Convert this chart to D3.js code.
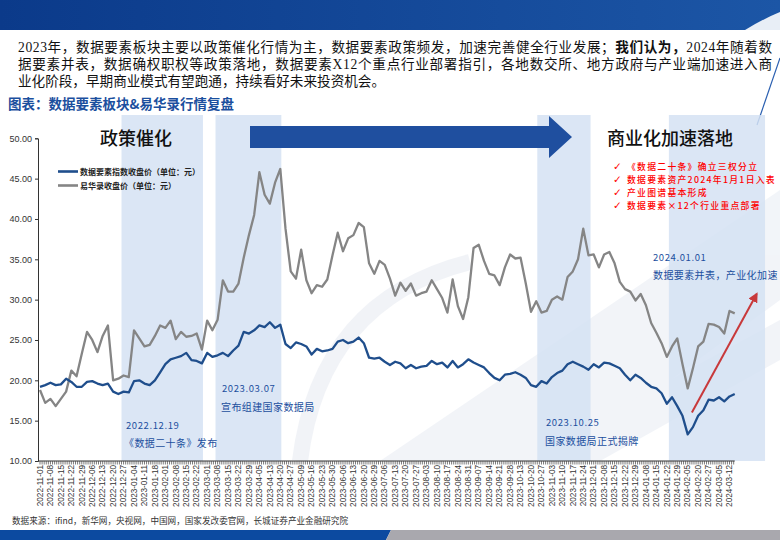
<!DOCTYPE html>
<html><head><meta charset="utf-8">
<script src="https://cdn.jsdelivr.net/npm/d3@7"></script>
<style>body{margin:0;background:#fff}svg{display:block}</style>
</head><body>
<svg id="c" width="780" height="540"></svg>
<script>
// ---------- DATA ----------
const xLabels = ["2022-11-01","2022-11-08","2022-11-15","2022-11-22","2022-11-29","2022-12-06","2022-12-13","2022-12-20","2022-12-27",
"2023-01-04","2023-01-11","2023-01-18","2023-02-01","2023-02-08","2023-02-15","2023-02-22","2023-03-01","2023-03-08","2023-03-15","2023-03-22","2023-03-29",
"2023-04-05","2023-04-13","2023-04-20","2023-04-27","2023-05-09","2023-05-16","2023-05-23","2023-05-30","2023-06-06","2023-06-13","2023-06-20","2023-06-29",
"2023-07-06","2023-07-13","2023-07-20","2023-07-27","2023-08-03","2023-08-10","2023-08-17","2023-08-24","2023-08-31","2023-09-07","2023-09-14","2023-09-21","2023-09-28",
"2023-10-13","2023-10-20","2023-10-27","2023-11-03","2023-11-10","2023-11-17","2023-11-24","2023-12-01","2023-12-08","2023-12-15","2023-12-22","2023-12-29",
"2024-01-08","2024-01-15","2024-01-22","2024-01-29","2024-02-05","2024-02-20","2024-02-27","2024-03-05","2024-03-12"];
const labelStep = 5;      // trading days between labels
const sampleStep = 2.5;   // trading days between samples below

// 数据要素指数收盘价（元）
const indexValues = [19.2,19.4,19.7,19.4,19.5,20.2,19.8,19.2,19.2,19.8,19.9,19.6,19.4,19.6,18.6,18.3,18.6,18.5,19.9,20.0,
19.6,19.4,20.0,21.0,22.0,22.6,22.8,23.0,23.4,22.5,22.4,22.1,23.4,22.9,23.1,23.4,23.0,23.7,24.3,26.0,
25.8,26.2,26.8,26.6,27.2,26.5,26.9,24.5,24.0,24.7,24.5,24.2,23.2,23.9,23.6,23.7,23.9,24.8,25.0,24.6,
24.8,25.3,24.6,22.8,22.7,22.8,22.3,21.9,22.3,22.1,21.5,21.9,21.5,21.7,21.8,22.4,22.0,22.2,21.6,22.4,
21.6,22.0,22.6,22.2,21.9,21.6,20.9,20.3,20.0,20.7,20.8,21.0,20.7,20.3,19.4,19.2,19.9,19.6,20.4,20.9,
21.2,22.0,22.3,22.0,21.7,21.3,22.0,21.6,22.2,22.1,21.8,21.5,20.7,20.0,20.7,20.3,19.7,19.2,19.0,18.4,
17.1,17.9,16.8,15.6,13.3,14.2,15.6,16.3,17.6,17.5,17.9,17.4,18.0,18.3];
// 易华录收盘价（元）
const yhlValues = [18.8,17.2,17.7,16.8,17.7,18.6,21.2,20.5,23.3,26.0,25.0,23.5,25.5,26.8,20.0,20.2,20.6,20.4,26.2,25.2,
24.2,24.4,25.5,26.8,26.5,27.4,25.1,26.0,25.4,25.5,25.8,23.8,27.4,26.2,27.5,32.4,31.0,31.0,32.0,35.2,
38.0,40.5,45.8,43.0,41.9,44.5,46.2,38.8,33.5,32.6,36.2,32.4,30.8,31.8,31.6,32.5,35.5,38.3,36.0,37.6,
38.0,39.5,39.0,34.5,33.2,34.8,34.3,32.6,30.5,32.1,31.1,32.0,30.5,30.8,31.0,32.4,31.3,30.2,28.4,32.5,
29.2,27.6,30.3,36.4,36.8,34.8,33.2,33.0,31.8,34.0,35.6,35.1,35.2,32.0,28.5,29.8,28.4,28.6,30.0,30.4,
30.0,32.8,33.5,35.0,38.8,35.5,35.6,34.0,35.6,35.9,34.5,32.2,31.3,31.0,29.9,30.7,29.3,27.1,25.9,24.6,
22.9,24.2,25.2,22.0,19.0,21.5,24.2,24.8,27.0,26.9,26.6,25.8,28.6,28.3];

const yTicks = [10,15,20,25,30,35,40,45,50];
const seriesNames = ["数据要素指数收盘价（单位：元）","易华录收盘价（单位：元）"];
const bandDays = [[39,78],[84,115.5],[238,263.5],[301,347]];   // highlighted periods (trading-day index)
const phaseTitles = ["政策催化","商业化加速落地"];
const eventDates = ["2022.12.19","2023.03.07","2023.10.25","2024.01.01"];
const eventTexts = ["《数据二十条》发布","宣布组建国家数据局","国家数据局正式揭牌","数据要素并表，产业化加速"];
const bullets = ["《数据二十条》确立三权分立","数据要素资产2024年1月1日入表","产业图谱基本形成","数据要素×12个行业重点部署"];
const trendFrom = [312, 16.0], trendTo = [343, 30.7];

// ---------- LAYOUT ----------
const svg = d3.select("#c");
const cjk = "'Noto Sans CJK SC', sans-serif";
const x = d3.scaleLinear().domain([0, 330]).range([40, 729.5]);
const y = d3.scaleLinear().domain([10, 50]).range([461, 138.3]);
const plotTop = 115, plotBottom = 461;
const navy = "#1f4e8c", grey = "#858585", hdrBlue = "#1b4f9e";

// header bar
const defs = svg.append("defs");
const g1 = defs.append("linearGradient").attr("id","hdr").attr("x1","0").attr("x2","1");
g1.append("stop").attr("offset","0").attr("stop-color","#0b3a8a");
g1.append("stop").attr("offset","1").attr("stop-color","#1c56a6");
svg.append("rect").attr("x",0).attr("y",0).attr("width",780).attr("height",30).attr("fill","url(#hdr)");
svg.append("path").attr("d","M745,30 Q765,18 780,12 L780,30 Z").attr("fill","#ffffff").attr("opacity",0.9);

// paragraph
const para = [
  [["2023年，数据要素板块主要以政策催化行情为主，数据要素政策频发，加速完善健全行业发展；",400],["我们认为，",700],["2024年随着数",400]],
  [["据要素并表，数据确权职权等政策落地，数据要素X12个重点行业部署指引，各地数交所、地方政府与产业端加速进入商",400]],
  [["业化阶段，早期商业模式有望跑通，持续看好未来投资机会。",400]]
];
para.forEach((parts,i)=>{
  const t = svg.append("text").attr("x",18).attr("y",52+i*17)
    .attr("font-family","'Liberation Serif', 'Noto Sans CJK SC', serif").attr("font-size",13.6).attr("fill","#111");
  parts.forEach(p=>t.append("tspan").attr("font-weight",p[1]).text(p[0]));
  if(i<2){
    const len = t.node().getComputedTextLength();
    const n = parts.map(p=>p[0]).join("").length;
    t.attr("letter-spacing",(754-len)/(n-1));
  }
});
svg.append("text").attr("x",8).attr("y",109).attr("font-family",cjk).attr("font-weight",700)
  .attr("font-size",13.5).attr("fill",hdrBlue).text("图表：数据要素板块&易华录行情复盘");

// faint watermark
const wm = svg.append("g").attr("opacity",0.55);
[[380,461,560,461,780,300,780,190],[520,461,600,461,780,360,780,320]].forEach(p=>{
  wm.append("path").attr("d",`M${p[0]},${p[1]}L${p[2]},${p[3]}L${p[4]},${p[5]}L${p[6]},${p[7]}Z`).attr("fill","#e8ecf4");
});
wm.append("path").attr("d","M300,461 Q320,300 470,262").attr("fill","none").attr("stroke","#e6eaf2").attr("stroke-width",16);
svg.append("line").attr("x1",780).attr("y1",58).attr("x2",757).attr("y2",125).attr("stroke","#2a5fb0").attr("stroke-width",1.2);

// highlight bands
svg.append("g").selectAll("rect").data(bandDays).join("rect")
  .attr("x",d=>x(d[0])).attr("width",d=>x(d[1])-x(d[0]))
  .attr("y",plotTop).attr("height",plotBottom-plotTop)
  .attr("fill","#d5e2f3").attr("opacity",0.85);

// phase titles & arrow
svg.append("text").attr("x",136).attr("y",145).attr("text-anchor","middle").attr("font-family",cjk)
  .attr("font-size",18).attr("font-weight",500).attr("fill","#111").text(phaseTitles[0]);
svg.append("text").attr("x",670).attr("y",145).attr("text-anchor","middle").attr("font-family",cjk)
  .attr("font-size",18).attr("font-weight",500).attr("fill","#111").text(phaseTitles[1]);
svg.append("path").attr("d","M250,126L549,126L549,116L572,137L549,158L549,148L250,148Z").attr("fill","#1f4f9f");

// y axis
const ya = svg.append("g").attr("transform","translate(38,0)")
  .call(d3.axisLeft(y).tickValues(yTicks).tickFormat(d3.format(".2f")).tickSize(3).tickPadding(3));
ya.select(".domain").attr("stroke","#333");
ya.selectAll(".tick line").attr("stroke","#333");
ya.selectAll("text").attr("font-family","'Liberation Sans', Arial, sans-serif").attr("font-size",9).attr("fill","#333");

// x axis
const nDays = (indexValues.length-1)*sampleStep;
svg.append("line").attr("x1",38).attr("x2",x(nDays)).attr("y1",461).attr("y2",461).attr("stroke","#333");
svg.append("g").selectAll("line").data(d3.range(0, Math.floor(nDays)+1)).join("line")
  .attr("x1",d=>x(d)).attr("x2",d=>x(d)).attr("y1",461).attr("y2",464.5).attr("stroke","#444").attr("stroke-width",0.7);
svg.append("g").selectAll("text").data(xLabels).join("text")
  .attr("transform",(d,i)=>`translate(${x(i*labelStep)},465) rotate(-90)`)
  .attr("text-anchor","end").attr("dy","0.33em")
  .attr("font-family","'Liberation Sans', Arial, sans-serif").attr("font-size",8.2).attr("fill","#333").text(d=>d);

// lines
const line = d3.line().x((d,i)=>x(i*sampleStep)).y(d=>y(d)).curve(d3.curveLinear);
svg.append("path").datum(yhlValues).attr("d",line).attr("fill","none").attr("stroke",grey).attr("stroke-width",2.3).attr("stroke-linejoin","round");
svg.append("path").datum(indexValues).attr("d",line).attr("fill","none").attr("stroke",navy).attr("stroke-width",2.3).attr("stroke-linejoin","round");

// legend
[[navy,171.5],[grey,185.5]].forEach((l,i)=>{
  svg.append("line").attr("x1",58).attr("x2",78).attr("y1",l[1]).attr("y2",l[1]).attr("stroke",l[0]).attr("stroke-width",2.6);
  svg.append("text").attr("x",80).attr("y",l[1]+3).attr("font-family",cjk).attr("font-size",8).attr("font-weight",700)
    .attr("fill","#222").text(seriesNames[i]);
});

// event annotations
const evPos = [[126,429,124,447],[222,392,221,411],[546,426,545,445],[653,261,653,279]];
eventDates.forEach((d,i)=>{
  const p = evPos[i];
  svg.append("text").attr("x",p[0]).attr("y",p[1]).attr("font-family",cjk).attr("font-size",9.5)
    .attr("letter-spacing",0.6).attr("fill",hdrBlue).text(d);
  svg.append("text").attr("x",p[2]).attr("y",p[3]).attr("font-family",cjk).attr("font-size",10)
    .attr("letter-spacing",0.4).attr("fill",hdrBlue).text(eventTexts[i]);
});

// bullets
bullets.forEach((b,i)=>{
  svg.append("text").attr("x",613).attr("y",169.5+i*13).attr("font-family","'DejaVu Sans', sans-serif")
    .attr("font-size",10.5).attr("fill","#ff0000").text("✓");
  svg.append("text").attr("x",627).attr("y",169.5+i*13).attr("font-family",cjk).attr("font-size",8.8)
    .attr("letter-spacing",1.3).attr("font-weight",500).attr("fill","#ff0000").text(b);
});

// trend arrow
defs.append("marker").attr("id","ah").attr("viewBox","0 0 10 10").attr("refX",8).attr("refY",5)
  .attr("markerWidth",5).attr("markerHeight",5).attr("orient","auto")
  .append("path").attr("d","M0,0L10,5L0,10Z").attr("fill","#c8393b");
svg.append("line").attr("x1",x(trendFrom[0])).attr("y1",y(trendFrom[1])).attr("x2",x(trendTo[0])).attr("y2",y(trendTo[1]))
  .attr("stroke","#c8393b").attr("stroke-width",2).attr("marker-end","url(#ah)");

// source & footer
svg.append("text").attr("x",12).attr("y",524).attr("font-family",cjk).attr("font-size",8.6).attr("fill","#333")
  .text("数据来源：ifind，新华网，央视网，中国网，国家发改委官网，长城证券产业金融研究院");
svg.append("path").attr("d","M0,530L391,530L386,540L0,540Z").attr("fill","#0c4aa0");
svg.append("path").attr("d","M391,530L780,530L780,540L386,540Z").attr("fill","#a9a8ae");
</script>
</body></html>
